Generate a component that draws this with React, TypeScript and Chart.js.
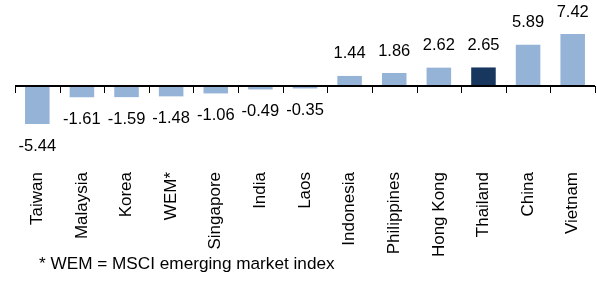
import React, { useEffect, useRef } from "react";
import { Chart, registerables } from "chart.js";

Chart.register(...registerables);

const categories = ["Taiwan", "Malaysia", "Korea", "WEM*", "Singapore", "India", "Laos", "Indonesia", "Philippines", "Hong Kong", "Thailand", "China", "Vietnam"];
const values = [-5.44, -1.61, -1.59, -1.48, -1.06, -0.49, -0.35, 1.44, 1.86, 2.62, 2.65, 5.89, 7.42];
const highlight = "Thailand";
const footnote = "* WEM = MSCI emerging market index";

const LIGHT = "#95B3D7";
const DARK = "#17375E";
const FONT = "Arial, 'Liberation Sans', sans-serif";

const W = 597;
const H = 282;

export default function App() {
  const ref = useRef<HTMLCanvasElement | null>(null);

  useEffect(() => {
    if (!ref.current) return;

    const overlay = {
      id: "overlay",
      afterDatasetsDraw(chart: any) {
        const { ctx, chartArea } = chart;
        const y = chart.scales.y;
        const x = chart.scales.x;
        const zero = y.getPixelForValue(0);
        ctx.save();
        // axis line
        ctx.strokeStyle = "#000";
        ctx.lineWidth = 2;
        ctx.beginPath();
        ctx.moveTo(chartArea.left, zero);
        ctx.lineTo(chartArea.right, zero);
        ctx.stroke();
        // tick marks at category boundaries
        ctx.lineWidth = 1;
        const n = categories.length;
        const step = (chartArea.right - chartArea.left) / n;
        for (let i = 0; i <= n; i++) {
          const px = Math.round(chartArea.left + i * step) + 0.5;
          ctx.beginPath();
          ctx.moveTo(px, zero);
          ctx.lineTo(px, zero + 7);
          ctx.stroke();
        }
        // value labels
        ctx.fillStyle = "#000";
        ctx.font = `16.5px ${FONT}`;
        ctx.textAlign = "center";
        ctx.textBaseline = "middle";
        values.forEach((v, i) => {
          const cx = x.getPixelForValue(i);
          const end = y.getPixelForValue(v);
          const ly = v >= 0 ? end - 22 : end + 22;
          ctx.fillText(v.toFixed(2), cx, ly);
        });
        // footnote
        ctx.font = `17.2px ${FONT}`;
        ctx.textAlign = "left";
        ctx.fillText(footnote, 39, 264);
        ctx.restore();
      },
    };

    const chart = new Chart(ref.current, {
      type: "bar",
      data: {
        labels: categories,
        datasets: [
          {
            data: values,
            backgroundColor: categories.map((c) => (c === highlight ? DARK : LIGHT)),
            borderWidth: 0,
            barPercentage: 0.55,
            categoryPercentage: 1,
          },
        ],
      },
      options: {
        animation: false,
        responsive: false,
        maintainAspectRatio: false,
        layout: { padding: { left: 15, right: 2, top: 2, bottom: 0 } },
        plugins: { legend: { display: false }, tooltip: { enabled: false } },
        scales: {
          x: {
            grid: { display: false, drawTicks: false },
            border: { display: false },
            ticks: {
              minRotation: 90,
              maxRotation: 90,
              padding: 3,
              color: "#000",
              font: { family: FONT, size: 17 },
            },
            afterFit: (scale: any) => {
              scale.height = H - 169;
            },
          },
          y: {
            display: false,
            min: -83 / 7,
            max: 12,
          },
        },
      },
      plugins: [overlay],
    });

    return () => chart.destroy();
  }, []);

  return (
    <div style={{ position: "fixed", left: 0, top: 0, width: W, height: H, background: "#fff" }}>
      <canvas ref={ref} width={W} height={H} style={{ width: W, height: H }} />
    </div>
  );
}
